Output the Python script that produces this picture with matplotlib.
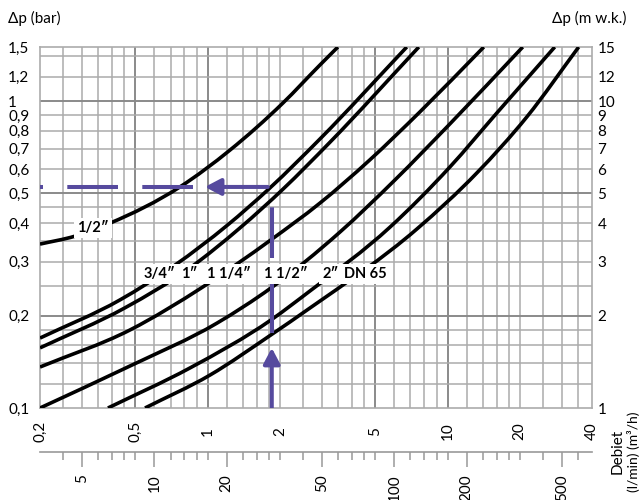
import matplotlib
matplotlib.use("Agg")
import numpy as np
import matplotlib.pyplot as plt
from matplotlib.ticker import NullLocator, NullFormatter
from matplotlib.patches import FancyArrowPatch, PathPatch
from matplotlib.path import Path

plt.rcParams['font.family'] = ['Lato', 'DejaVu Sans']
plt.rcParams['lines.scale_dashes'] = False

# ---------------- data (flow in m3/h, pressure drop in bar) ----------------
q_half = [0.2, 0.280, 0.391, 0.766, 1.238, 2.058, 2.936, 3.49]
dp_half = [0.342, 0.363, 0.400, 0.525, 0.692, 0.985, 1.31, 1.5]

q_34 = [0.2, 0.431, 0.730, 1.203, 1.817, 2.936, 6.76]
dp_34 = [0.169, 0.225, 0.292, 0.393, 0.521, 0.752, 1.5]

q_1 = [0.2, 0.452, 0.843, 1.363, 2.058, 3.23, 7.59]
dp_1 = [0.157, 0.212, 0.286, 0.386, 0.516, 0.7335, 1.5]

q_114 = [0.2, 0.474, 0.955, 1.835, 2.936, 4.74, 7.66, 14.16]
dp_114 = [0.136, 0.1795, 0.248, 0.353, 0.465, 0.643, 0.921, 1.5]

q_112 = [0.2, 0.474, 1.093, 1.835, 3.556, 6.03, 10.22, 20.58]
dp_112 = [0.1, 0.137, 0.189, 0.246, 0.374, 0.553, 0.842, 1.5]

q_2 = [0.384, 0.843, 1.835, 2.668, 5.746, 10.22, 16.04, 27.98]
dp_2 = [0.1, 0.135, 0.1935, 0.2405, 0.388, 0.6095, 0.914, 1.5]

q_dn65 = [0.548, 1.022, 1.835, 2.668, 7.45, 13.24, 21.38, 35.2]
dp_dn65 = [0.1, 0.128, 0.173, 0.2117, 0.383, 0.583, 0.887, 1.5]

curve_labels = ['1/2\u2033', '3/4\u2033', '1\u2033', '1 1/4\u2033', '1 1/2\u2033', '2\u2033', 'DN 65']
label_q = [0.333, 0.632, 0.836, 1.226, 2.12, 3.26, 4.56]
label_dp = [0.386, 0.273, 0.273, 0.273, 0.273, 0.273, 0.273]

# example reading (violet construction)
ex_q = 1.85
ex_dp = 0.525
ex_dp_low = 0.1755
ex_arrow_tip_dp = 0.157
ex_arrow_tip_q = 0.974
ex_arrow_start_q = 1.78
ex_dash_start_q = 0.868

# axes / grid
x_grid = [0.25, 0.3, 0.35, 0.4, 0.45, 0.5, 0.6, 0.7, 0.8, 0.9, 1, 1.2, 1.4, 1.6, 1.8,
          2, 2.5, 3, 3.5, 4, 4.5, 5, 6, 7, 8, 9, 10, 12, 14, 16, 18, 20, 25, 30, 35]
x_grid_dark = [0.5, 1, 5, 10]
y_grid = [0.12, 0.14, 0.16, 0.18, 0.2, 0.25, 0.3, 0.35, 0.4, 0.45, 0.5, 0.6, 0.7, 0.8,
          0.9, 1, 1.2, 1.4]
y_grid_dark = [0.2, 0.5, 1]

x_ticks = [0.2, 0.5, 1, 2, 5, 10, 20, 40]
x_ticklabels = ['0,2', '0,5', '1', '2', '5', '10', '20', '40']
y_ticks = [0.1, 0.2, 0.3, 0.4, 0.5, 0.6, 0.7, 0.8, 0.9, 1, 1.2, 1.5]
y_ticklabels = ['0,1', '0,2', '0,3', '0,4', '0,5', '0,6', '0,7', '0,8', '0,9', '1', '1,2', '1,5']
mwk_ticks = [1, 2, 3, 4, 5, 6, 7, 8, 9, 10, 12, 15]
mwk_ticklabels = ['1', '2', '3', '4', '5', '6', '7', '8', '9', '10', '12', '15']
lpm_ticks = [5, 10, 20, 50, 100, 200, 500]
lpm_ticklabels = ['5', '10', '20', '50', '100', '200', '500']


def smooth_path(q, dp):
    """Smooth curve through the read points (cubic Hermite in log-log space)."""
    x = np.log10(q)
    y = np.log10(dp)
    h = np.diff(x)
    d = np.diff(y) / h
    m = np.empty_like(x)
    m[0], m[-1] = d[0], d[-1]
    for i in range(1, len(x) - 1):
        m[i] = (d[i - 1] * h[i] + d[i] * h[i - 1]) / (h[i - 1] + h[i])
    verts = [(x[0], y[0])]
    codes = [Path.MOVETO]
    for i in range(len(x) - 1):
        verts += [(x[i] + h[i] / 3, y[i] + m[i] * h[i] / 3),
                  (x[i + 1] - h[i] / 3, y[i + 1] - m[i + 1] * h[i] / 3),
                  (x[i + 1], y[i + 1])]
        codes += [Path.CURVE4] * 3
    return Path(10 ** np.array(verts), codes)


# ---------------- figure ----------------
W, H = 643, 500
fig = plt.figure(figsize=(W / 100, H / 100), dpi=100)
ax = fig.add_axes([40 / W, 92 / H, 552 / W, 361 / H])
ax.set_xscale('log')
ax.set_yscale('log')
ax.set_xlim(0.2, 40)
ax.set_ylim(0.1, 1.5)

grid_c = '#ababab'
dark_c = '#8a8a8a'
for g in x_grid:
    dk = g in x_grid_dark
    ax.axvline(g, color=dark_c if dk else grid_c, lw=1.4 if dk else 1.1, zorder=1)
for g in y_grid:
    dk = g in y_grid_dark
    ax.axhline(g, color=dark_c if dk else grid_c, lw=1.4 if dk else 1.1, zorder=1)
for s in ax.spines.values():
    s.set_color(grid_c)
    s.set_linewidth(1.2)

series = [(q_half, dp_half), (q_34, dp_34), (q_1, dp_1), (q_114, dp_114),
          (q_112, dp_112), (q_2, dp_2), (q_dn65, dp_dn65)]
for q, dp in series:
    ax.add_patch(PathPatch(smooth_path(q, dp), fill=False, ec='black', lw=2.6,
                           capstyle='butt', joinstyle='round', zorder=3))

violet = '#564a9e'
dash = (0, (36.5, 17.5))
ax.plot([ex_q, ex_q], [ex_dp_low, ex_dp], color=violet, lw=2.9, ls=dash,
        dash_capstyle='butt', zorder=4)
ax.plot([ex_dash_start_q, 0.2], [ex_dp, ex_dp], color=violet, lw=2.9, ls=dash,
        dash_capstyle='butt', zorder=4)
for a, b in [((ex_arrow_start_q, ex_dp), (ex_arrow_tip_q, ex_dp)),
             ((ex_q, 0.1), (ex_q, ex_arrow_tip_dp))]:
    ar = FancyArrowPatch(a, b, arrowstyle='-|>,head_length=0.95,head_width=0.5',
                         mutation_scale=10, lw=2.9, color=violet,
                         shrinkA=0, shrinkB=0, zorder=4)
    ax.add_patch(ar)

for s, lq, ld in zip(curve_labels, label_q, label_dp):
    ax.text(lq, ld, s, ha='center', va='center', fontsize=10.5, fontweight='bold',
            bbox=dict(boxstyle='square,pad=0.22', fc='white', ec='none'), zorder=6)

# main x ticks (m3/h)
ax.xaxis.set_minor_locator(NullLocator())
ax.xaxis.set_minor_formatter(NullFormatter())
ax.set_xticks(x_ticks, x_ticklabels)
ax.tick_params(axis='x', length=0, pad=17, labelsize=11, labelrotation=90)
for lab in ax.get_xticklabels():
    lab.set_va('center')

# left y ticks (bar)
ax.yaxis.set_minor_locator(NullLocator())
ax.yaxis.set_minor_formatter(NullFormatter())
ax.set_yticks(y_ticks, y_ticklabels)
ax.tick_params(axis='y', length=0, pad=23, labelsize=11)
for lab in ax.get_yticklabels():
    lab.set_ha('left')

# right axis (m w.k.)
sy = ax.secondary_yaxis('right', functions=(lambda d: d * 10, lambda m: m / 10))
sy.yaxis.set_minor_locator(NullLocator())
sy.yaxis.set_minor_formatter(NullFormatter())
sy.set_yticks(mwk_ticks, mwk_ticklabels)
sy.tick_params(axis='y', length=0, pad=4, labelsize=11)
sy.spines['right'].set_visible(False)

# bottom l/min axis
sx = ax.secondary_xaxis(-44 / 361, functions=(lambda q: q * 1000 / 60, lambda l: l * 60 / 1000))
sx.set_xticks(lpm_ticks, lpm_ticklabels)
sx.set_xticks([g * 1000 / 60 for g in x_grid], minor=True)
sx.xaxis.set_minor_formatter(NullFormatter())
sx.tick_params(axis='x', which='major', length=11, width=1.1, color='#999999',
               direction='out', pad=5, labelsize=11, labelrotation=90)
sx.tick_params(axis='x', which='minor', length=6, width=1.1, color='#999999',
               direction='out')
sx.spines['bottom'].set_color('#999999')
sx.spines['bottom'].set_linewidth(1.2)

fig.text(8 / W, 1 - 18 / H, '\u0394p (bar)', ha='left', va='center', fontsize=11)
fig.text(626 / W, 1 - 18 / H, '\u0394p (m w.k.)', ha='right', va='center', fontsize=11)
fig.text(618 / W, 1 - 451 / H, 'Debiet', rotation=90, ha='center', va='center', fontsize=11)
fig.text(634 / W, 1 - 411 / H, '(l/min) (m\u00b3/h)', rotation=90, ha='center', va='top',
         fontsize=10)

fig.savefig('out.png', dpi=100)
